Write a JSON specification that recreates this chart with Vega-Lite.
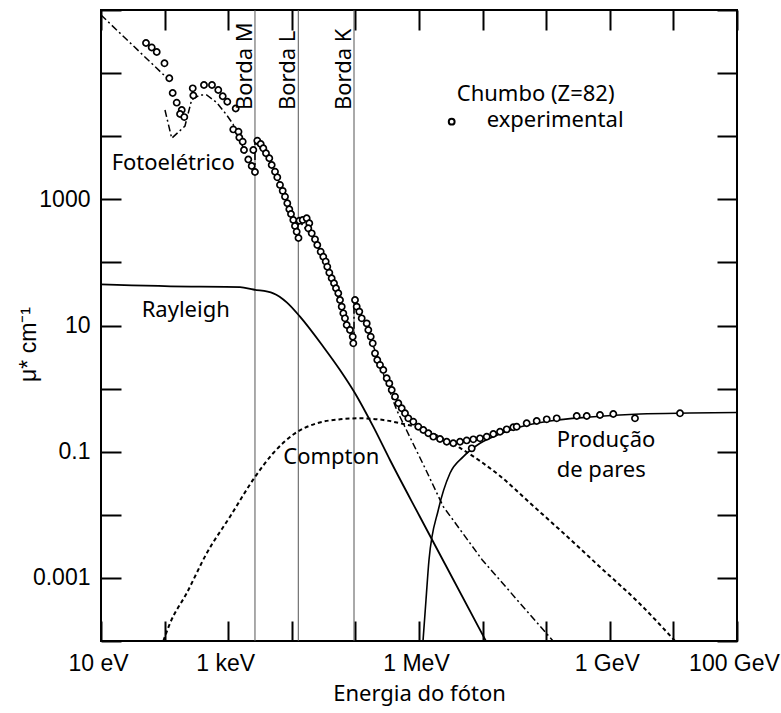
{
  "$schema": "https://vega.github.io/schema/vega-lite/v6.json",
  "width": 636,
  "height": 631,
  "autosize": {"type": "none"},
  "padding": {"left": 101, "top": 10, "right": 44, "bottom": 72},
  "background": "white",
  "config": {
    "view": {"stroke": "#000", "strokeWidth": 2},
    "axis": {
      "grid": false, "domain": false, "tickColor": "#000", "tickWidth": 2, "tickSize": -20,
      "labelFont": "Liberation Sans", "labelFontSize": 23, "labelColor": "#000",
      "titleColor": "#000", "titleFontWeight": "normal", "labelFlush": false, "labelOverlap": false
    },
    "text": {"font": "Noto Sans", "fontSize": 22, "color": "#000"}
  },
  "datasets": {
    "bordas": [
      {"borda": "Borda M", "E": 2636, "mu": 26000},
      {"borda": "Borda L", "E": 12650, "mu": 26000},
      {"borda": "Borda K", "E": 95100, "mu": 26000}
    ],
    "curvas": [
      {"curva": "Rayleigh", "E": 10, "mu": 45.0},
      {"curva": "Rayleigh", "E": 360, "mu": 41.2},
      {"curva": "Rayleigh", "E": 1535, "mu": 40.7},
      {"curva": "Rayleigh", "E": 2483, "mu": 37.2},
      {"curva": "Rayleigh", "E": 5117, "mu": 32.4},
      {"curva": "Rayleigh", "E": 8414, "mu": 23.1},
      {"curva": "Rayleigh", "E": 13460, "mu": 13.8},
      {"curva": "Rayleigh", "E": 31260, "mu": 4.61},
      {"curva": "Rayleigh", "E": 57270, "mu": 1.97},
      {"curva": "Rayleigh", "E": 98600, "mu": 0.843},
      {"curva": "Rayleigh", "E": 191000, "mu": 0.249},
      {"curva": "Rayleigh", "E": 350000, "mu": 0.0738},
      {"curva": "Rayleigh", "E": 1038000, "mu": 0.00923},
      {"curva": "Rayleigh", "E": 2564000, "mu": 0.00166},
      {"curva": "Rayleigh", "E": 11300000, "mu": 0.0001},
      {"curva": "Compton", "E": 95.5, "mu": 0.0001},
      {"curva": "Compton", "E": 121.7, "mu": 0.000191},
      {"curva": "Compton", "E": 222, "mu": 0.00057},
      {"curva": "Compton", "E": 459, "mu": 0.002455},
      {"curva": "Compton", "E": 1067, "mu": 0.00933},
      {"curva": "Compton", "E": 2636, "mu": 0.0397},
      {"curva": "Compton", "E": 5117, "mu": 0.0953},
      {"curva": "Compton", "E": 10560, "mu": 0.1875},
      {"curva": "Compton", "E": 24660, "mu": 0.282},
      {"curva": "Compton", "E": 57270, "mu": 0.326},
      {"curva": "Compton", "E": 118000, "mu": 0.338},
      {"curva": "Compton", "E": 274700, "mu": 0.318},
      {"curva": "Compton", "E": 566000, "mu": 0.275},
      {"curva": "Compton", "E": 1321000, "mu": 0.221},
      {"curva": "Compton", "E": 2138000, "mu": 0.171},
      {"curva": "Compton", "E": 4413000, "mu": 0.1146},
      {"curva": "Compton", "E": 9100000, "mu": 0.0713},
      {"curva": "Compton", "E": 18790000, "mu": 0.0412},
      {"curva": "Compton", "E": 55600000, "mu": 0.01538},
      {"curva": "Compton", "E": 164800000, "mu": 0.00574},
      {"curva": "Compton", "E": 701000000, "mu": 0.00149},
      {"curva": "Compton", "E": 2985000000, "mu": 0.000386},
      {"curva": "Compton", "E": 10600000000, "mu": 0.0001},
      {"curva": "Pares", "E": 1156000, "mu": 0.0001},
      {"curva": "Pares", "E": 1288000, "mu": 0.000447},
      {"curva": "Pares", "E": 1436000, "mu": 0.00192},
      {"curva": "Pares", "E": 2010000, "mu": 0.0119},
      {"curva": "Pares", "E": 3070000, "mu": 0.0455},
      {"curva": "Pares", "E": 4980000, "mu": 0.0834},
      {"curva": "Pares", "E": 9100000, "mu": 0.136},
      {"curva": "Pares", "E": 18790000, "mu": 0.191},
      {"curva": "Pares", "E": 38700000, "mu": 0.246},
      {"curva": "Pares", "E": 114800000, "mu": 0.307},
      {"curva": "Pares", "E": 489000000, "mu": 0.355},
      {"curva": "Pares", "E": 2985000000, "mu": 0.396},
      {"curva": "Pares", "E": 18200000000, "mu": 0.41},
      {"curva": "Pares", "E": 100000000000, "mu": 0.418}
    ],
    "fotoeletrico": [
      {"seg": "a", "n": 1, "E": 10, "mu": 834000},
      {"seg": "a", "n": 2, "E": 109, "mu": 83600},
      {"seg": "b", "n": 3, "E": 101.4, "mu": 26000},
      {"seg": "b", "n": 4, "E": 129.4, "mu": 9270},
      {"seg": "b", "n": 5, "E": 209, "mu": 14520},
      {"seg": "b", "n": 6, "E": 267, "mu": 38200},
      {"seg": "b", "n": 7, "E": 360, "mu": 44980},
      {"seg": "b", "n": 8, "E": 459, "mu": 44980},
      {"seg": "b", "n": 9, "E": 659, "mu": 34200},
      {"seg": "b", "n": 10, "E": 946, "mu": 21680},
      {"seg": "b", "n": 11, "E": 1189, "mu": 15600},
      {"seg": "b", "n": 12, "E": 1535, "mu": 8710},
      {"seg": "b", "n": 13, "E": 2046, "mu": 4198},
      {"seg": "b", "n": 14, "E": 2636, "mu": 2710},
      {"seg": "b", "n": 15, "E": 2636, "mu": 8090},
      {"seg": "b", "n": 16, "E": 4540, "mu": 4198},
      {"seg": "b", "n": 17, "E": 7820, "mu": 1127},
      {"seg": "b", "n": 18, "E": 12650, "mu": 253},
      {"seg": "b", "n": 19, "E": 12650, "mu": 470},
      {"seg": "b", "n": 20, "E": 23170, "mu": 226},
      {"seg": "b", "n": 21, "E": 39900, "mu": 63.1},
      {"seg": "b", "n": 22, "E": 68550, "mu": 13.1},
      {"seg": "b", "n": 23, "E": 95100, "mu": 5.89},
      {"seg": "b", "n": 24, "E": 95100, "mu": 23.6},
      {"seg": "b", "n": 25, "E": 141600, "mu": 11.4},
      {"seg": "b", "n": 26, "E": 243600, "mu": 2.37},
      {"seg": "b", "n": 27, "E": 445700, "mu": 0.458},
      {"seg": "b", "n": 28, "E": 1242000, "mu": 0.0552},
      {"seg": "b", "n": 29, "E": 2410000, "mu": 0.01346},
      {"seg": "b", "n": 30, "E": 9890000, "mu": 0.001923},
      {"seg": "b", "n": 31, "E": 128000000, "mu": 0.0001}
    ],
    "experimental": [
      {"E": 51.0, "mu": 300000}, {"E": 62.7, "mu": 255000}, {"E": 75.2, "mu": 216000},
      {"E": 99.6, "mu": 143000}, {"E": 118.6, "mu": 82800}, {"E": 134, "mu": 48400},
      {"E": 155, "mu": 34000}, {"E": 186, "mu": 26000}, {"E": 175, "mu": 22500},
      {"E": 204, "mu": 20100}, {"E": 277, "mu": 57400}, {"E": 283, "mu": 44200},
      {"E": 416, "mu": 64700}, {"E": 556, "mu": 64700}, {"E": 698, "mu": 53900},
      {"E": 820, "mu": 42900}, {"E": 968, "mu": 35200}, {"E": 1312, "mu": 27500},
      {"E": 1202, "mu": 12800}, {"E": 1452, "mu": 11800}, {"E": 1496, "mu": 9530},
      {"E": 1690, "mu": 8190}, {"E": 1771, "mu": 6040}, {"E": 2070, "mu": 4280},
      {"E": 2342, "mu": 3370}, {"E": 2636, "mu": 2710}, {"E": 2483, "mu": 6040},
      {"E": 2871, "mu": 8490}, {"E": 3245, "mu": 7520}, {"E": 3565, "mu": 6430},
      {"E": 3930, "mu": 5360}, {"E": 4426, "mu": 4470}, {"E": 4830, "mu": 3500},
      {"E": 5445, "mu": 2740}, {"E": 5916, "mu": 2230}, {"E": 6520, "mu": 1690},
      {"E": 7190, "mu": 1360}, {"E": 7820, "mu": 1100}, {"E": 8500, "mu": 865},
      {"E": 9140, "mu": 695}, {"E": 9710, "mu": 584}, {"E": 10560, "mu": 470},
      {"E": 11220, "mu": 378}, {"E": 11930, "mu": 307}, {"E": 12740, "mu": 244},
      {"E": 13210, "mu": 458}, {"E": 14830, "mu": 470}, {"E": 17140, "mu": 500},
      {"E": 18840, "mu": 417}, {"E": 18180, "mu": 347}, {"E": 20570, "mu": 289},
      {"E": 23170, "mu": 232}, {"E": 25180, "mu": 189}, {"E": 28450, "mu": 148},
      {"E": 31260, "mu": 123}, {"E": 34120, "mu": 103}, {"E": 36140, "mu": 85.5},
      {"E": 38900, "mu": 68.7}, {"E": 42360, "mu": 56.0}, {"E": 46100, "mu": 46.7},
      {"E": 49550, "mu": 38.9}, {"E": 53830, "mu": 32.4}, {"E": 57270, "mu": 25.4},
      {"E": 60930, "mu": 19.9}, {"E": 64570, "mu": 15.6}, {"E": 68550, "mu": 13.0},
      {"E": 72950, "mu": 10.2}, {"E": 82200, "mu": 8.49}, {"E": 90750, "mu": 6.65},
      {"E": 92700, "mu": 5.22}, {"E": 98600, "mu": 25.4}, {"E": 104800, "mu": 19.9},
      {"E": 115100, "mu": 16.6}, {"E": 125600, "mu": 13.0}, {"E": 150600, "mu": 10.8},
      {"E": 159600, "mu": 8.49}, {"E": 174200, "mu": 6.65}, {"E": 187200, "mu": 5.22},
      {"E": 203400, "mu": 3.62}, {"E": 220900, "mu": 2.84}, {"E": 243600, "mu": 2.37},
      {"E": 274700, "mu": 1.97}, {"E": 310500, "mu": 1.46}, {"E": 341300, "mu": 1.21},
      {"E": 372400, "mu": 0.951}, {"E": 419800, "mu": 0.745}, {"E": 473100, "mu": 0.585},
      {"E": 534600, "mu": 0.488}, {"E": 602600, "mu": 0.406}, {"E": 679200, "mu": 0.338},
      {"E": 813300, "mu": 0.299}, {"E": 975000, "mu": 0.249}, {"E": 1169000, "mu": 0.221},
      {"E": 1401000, "mu": 0.196}, {"E": 1679000, "mu": 0.173}, {"E": 2138000, "mu": 0.159},
      {"E": 2728000, "mu": 0.144}, {"E": 3461000, "mu": 0.136}, {"E": 4413000, "mu": 0.144},
      {"E": 5623000, "mu": 0.151}, {"E": 7145000, "mu": 0.157}, {"E": 9100000, "mu": 0.163},
      {"E": 11610000, "mu": 0.173}, {"E": 14740000, "mu": 0.191}, {"E": 18790000, "mu": 0.207},
      {"E": 23930000, "mu": 0.226}, {"E": 30400000, "mu": 0.244}, {"E": 34360000, "mu": 0.249},
      {"E": 49320000, "mu": 0.282}, {"E": 70900000, "mu": 0.307}, {"E": 101900000, "mu": 0.326},
      {"E": 146300000, "mu": 0.338}, {"E": 302000000, "mu": 0.368}, {"E": 434000000, "mu": 0.368},
      {"E": 701000000, "mu": 0.382}, {"E": 1135000000, "mu": 0.396}, {"E": 2489000000, "mu": 0.338},
      {"E": 12700000000, "mu": 0.406}, {"E": 6745000, "mu": 0.113}
    ],
    "legenda": [
      {"E": 3266000, "mu": 16980}
    ],
    "rotulos": [
      {"texto": "Fotoelétrico", "E": 14.7, "mu": 2911},
      {"texto": "Rayleigh", "E": 43.6, "mu": 13.6},
      {"texto": "Compton", "E": 7345, "mu": 0.0627},
      {"texto": "Produção", "E": 146200000, "mu": 0.1175},
      {"texto": "de pares", "E": 146200000, "mu": 0.0402},
      {"texto": "Chumbo (Z=82)", "E": 3920000, "mu": 36560},
      {"texto": "experimental", "E": 11610000, "mu": 14160}
    ]
  },
  "layer": [
    {
      "data": {"name": "bordas"},
      "mark": {"type": "rule", "color": "#555", "strokeWidth": 1},
      "encoding": {
        "x": {"field": "E", "type": "quantitative", "scale": {"type": "log", "domain": [10, 100000000000], "nice": false}, "axis": null}
      }
    },
    {
      "data": {"name": "curvas"},
      "transform": [{"filter": "datum.curva == 'Rayleigh'"}],
      "mark": {"type": "line", "color": "#000", "strokeWidth": 1.8, "interpolate": "monotone"},
      "encoding": {
        "x": {
          "field": "E", "type": "quantitative",
          "scale": {"type": "log", "domain": [10, 100000000000], "nice": false},
          "axis": {
            "orient": "bottom",
            "values": [10, 100, 1000, 10000, 100000, 1000000, 10000000, 100000000, 1000000000, 10000000000, 100000000000],
            "labelExpr": "datum.value == 10 ? '10 eV' : datum.value == 1000 ? '1 keV' : datum.value == 1000000 ? '1 MeV' : datum.value == 1000000000 ? '1 GeV' : datum.value == 100000000000 ? '100 GeV' : ''",
            "labelPadding": 31,
            "labelOffset": -3,
            "title": "Energia do fóton",
            "titleFont": "Noto Sans",
            "titleFontSize": 22,
            "titlePadding": 8
          }
        },
        "y": {
          "field": "mu", "type": "quantitative",
          "scale": {"type": "log", "domain": [0.0001, 1000000], "nice": false},
          "axis": {
            "orient": "left",
            "values": [0.0001, 0.001, 0.01, 0.1, 1, 10, 100, 1000, 10000, 100000, 1000000],
            "labelExpr": "datum.value == 1000 ? '1000' : datum.value == 10 ? '10' : datum.value == 0.1 ? '0.1' : datum.value == 0.001 ? '0.001' : ''",
            "labelPadding": 31,
            "title": "μ* cm⁻¹",
            "titleFont": "Liberation Sans",
            "titleFontSize": 23,
            "titleX": -61,
            "titleY": 334
          }
        }
      }
    },
    {
      "data": {"name": "curvas"},
      "transform": [{"filter": "datum.curva == 'Compton'"}],
      "mark": {"type": "line", "color": "#000", "strokeWidth": 2, "strokeDash": [4, 3], "interpolate": "monotone"},
      "encoding": {
        "x": {"field": "E", "type": "quantitative", "scale": {"type": "log", "domain": [10, 100000000000], "nice": false}, "axis": null},
        "y": {"field": "mu", "type": "quantitative", "scale": {"type": "log", "domain": [0.0001, 1000000], "nice": false}, "axis": null}
      }
    },
    {
      "data": {"name": "curvas"},
      "transform": [{"filter": "datum.curva == 'Pares'"}],
      "mark": {"type": "line", "color": "#000", "strokeWidth": 1.6, "interpolate": "monotone"},
      "encoding": {
        "x": {"field": "E", "type": "quantitative", "scale": {"type": "log", "domain": [10, 100000000000], "nice": false}, "axis": null},
        "y": {"field": "mu", "type": "quantitative", "scale": {"type": "log", "domain": [0.0001, 1000000], "nice": false}, "axis": null}
      }
    },
    {
      "data": {"name": "fotoeletrico"},
      "mark": {"type": "line", "color": "#000", "strokeWidth": 1.5, "strokeDash": [7, 3, 2, 3]},
      "encoding": {
        "x": {"field": "E", "type": "quantitative", "scale": {"type": "log", "domain": [10, 100000000000], "nice": false}, "axis": null},
        "y": {"field": "mu", "type": "quantitative", "scale": {"type": "log", "domain": [0.0001, 1000000], "nice": false}, "axis": null},
        "detail": {"field": "seg"},
        "order": {"field": "n", "type": "quantitative"}
      }
    },
    {
      "data": {"name": "experimental"},
      "mark": {"type": "point", "shape": "circle", "filled": true, "fill": "white", "stroke": "#000", "strokeWidth": 1.7, "size": 38, "opacity": 1},
      "encoding": {
        "x": {
          "field": "E", "type": "quantitative",
          "scale": {"type": "log", "domain": [10, 100000000000], "nice": false},
          "axis": {
            "orient": "top",
            "values": [10, 100, 1000, 10000, 100000, 1000000, 10000000, 100000000, 1000000000, 10000000000, 100000000000],
            "labels": false,
            "title": null
          }
        },
        "y": {
          "field": "mu", "type": "quantitative",
          "scale": {"type": "log", "domain": [0.0001, 1000000], "nice": false},
          "axis": {
            "orient": "right",
            "values": [0.0001, 0.001, 0.01, 0.1, 1, 10, 100, 1000, 10000, 100000, 1000000],
            "labels": false,
            "title": null
          }
        }
      }
    },
    {
      "data": {"name": "legenda"},
      "mark": {"type": "point", "shape": "circle", "filled": true, "fill": "white", "stroke": "#000", "strokeWidth": 2, "size": 34, "opacity": 1},
      "encoding": {
        "x": {"field": "E", "type": "quantitative", "scale": {"type": "log", "domain": [10, 100000000000], "nice": false}, "axis": null},
        "y": {"field": "mu", "type": "quantitative", "scale": {"type": "log", "domain": [0.0001, 1000000], "nice": false}, "axis": null}
      }
    },
    {
      "data": {"name": "rotulos"},
      "mark": {"type": "text", "align": "left", "baseline": "alphabetic"},
      "encoding": {
        "x": {"field": "E", "type": "quantitative", "scale": {"type": "log", "domain": [10, 100000000000], "nice": false}, "axis": null},
        "y": {"field": "mu", "type": "quantitative", "scale": {"type": "log", "domain": [0.0001, 1000000], "nice": false}, "axis": null},
        "text": {"field": "texto"}
      }
    },
    {
      "data": {"name": "bordas"},
      "mark": {"type": "text", "align": "left", "baseline": "alphabetic", "angle": 270, "dy": -3},
      "encoding": {
        "x": {"field": "E", "type": "quantitative", "scale": {"type": "log", "domain": [10, 100000000000], "nice": false}, "axis": null},
        "y": {"field": "mu", "type": "quantitative", "scale": {"type": "log", "domain": [0.0001, 1000000], "nice": false}, "axis": null},
        "text": {"field": "borda"}
      }
    }
  ]
}
